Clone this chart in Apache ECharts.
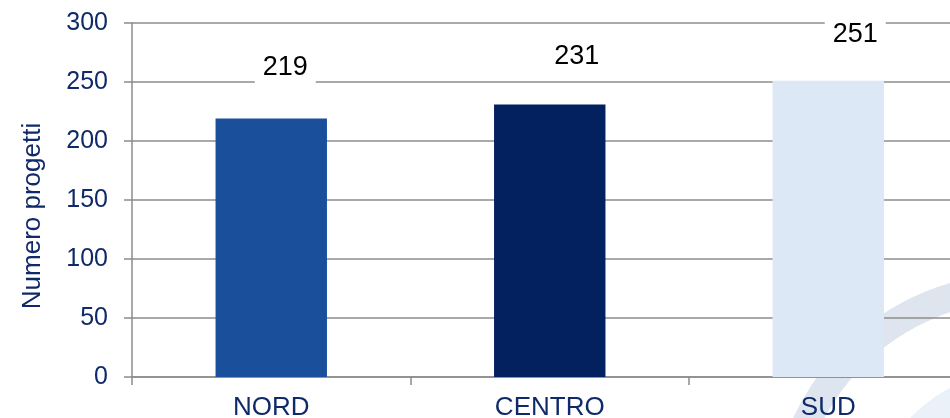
<!DOCTYPE html>
<html>
<head>
<meta charset="utf-8">
<script src="https://cdn.jsdelivr.net/npm/echarts@6/dist/echarts.min.js"></script>
<style>
html,body{margin:0;padding:0;background:#fff;}
#chart{width:950px;height:418px;}
</style>
</head>
<body>
<div id="chart"></div>
<script>
const categories = ['NORD', 'CENTRO', 'SUD'];
const values = [219, 231, 251];
const barColors = ['#1a4f9c', '#03205f', '#dce8f5'];
const yTicks = [0, 50, 100, 150, 200, 250, 300];
const yAxisName = 'Numero progetti';

const labelOffsets = [[14, -34], [27, -30], [27, -29]];

const chart = echarts.init(document.getElementById('chart'), null, {renderer: 'canvas'});
const navy = '#0f2a6a';
const gray = '#8c8c8c';

chart.setOption({
  animation: false,
  backgroundColor: '#fff',
  graphic: [
    {type: 'ring', z: -10, silent: true, shape: {cx: 1020, cy: 523, r: 250, r0: 222}, style: {fill: '#dfe5ee'}},
    {type: 'ring', z: -10, silent: true, shape: {cx: 1020, cy: 523, r: 152, r0: 100}, style: {fill: '#ebf1f9'}}
  ],
  grid: {left: 132, right: -17.5, top: 23, bottom: 41, containLabel: false, outerBoundsMode: 'none'},
  xAxis: {
    type: 'category',
    data: categories,
    axisLine: {lineStyle: {color: gray, width: 1.5}},
    axisTick: {show: true, length: 8, alignWithLabel: false, lineStyle: {color: gray, width: 1.5}},
    axisLabel: {color: navy, fontSize: 26, fontFamily: 'Liberation Sans', margin: 18}
  },
  yAxis: {
    type: 'value',
    min: yTicks[0],
    max: yTicks[yTicks.length - 1],
    interval: 50,
    name: yAxisName,
    nameLocation: 'middle',
    nameRotate: 90,
    nameGap: 86,
    nameTextStyle: {color: navy, fontSize: 26, fontFamily: 'Liberation Sans', padding: [0, 32, 0, 0]},
    axisLine: {show: true, lineStyle: {color: gray, width: 1.5}},
    axisTick: {show: true, length: 8, lineStyle: {color: gray, width: 1.5}},
    axisLabel: {color: navy, fontSize: 25, fontFamily: 'Liberation Sans', margin: 24},
    splitLine: {show: true, lineStyle: {color: gray, width: 1.5}}
  },
  series: [{
    type: 'bar',
    barWidth: '40%',
    z: 3,
    data: values.map((v, i) => ({
      value: v,
      itemStyle: {color: barColors[i]},
      label: {offset: labelOffsets[i]}
    })),
    label: {
      show: true,
      position: 'top',
      distance: 0,
      color: '#000',
      fontSize: 27,
      fontFamily: 'Liberation Sans',
      backgroundColor: '#fff',
      padding: [4, 8],
      lineHeight: 27
    }
  }]
});
</script>
</body>
</html>
